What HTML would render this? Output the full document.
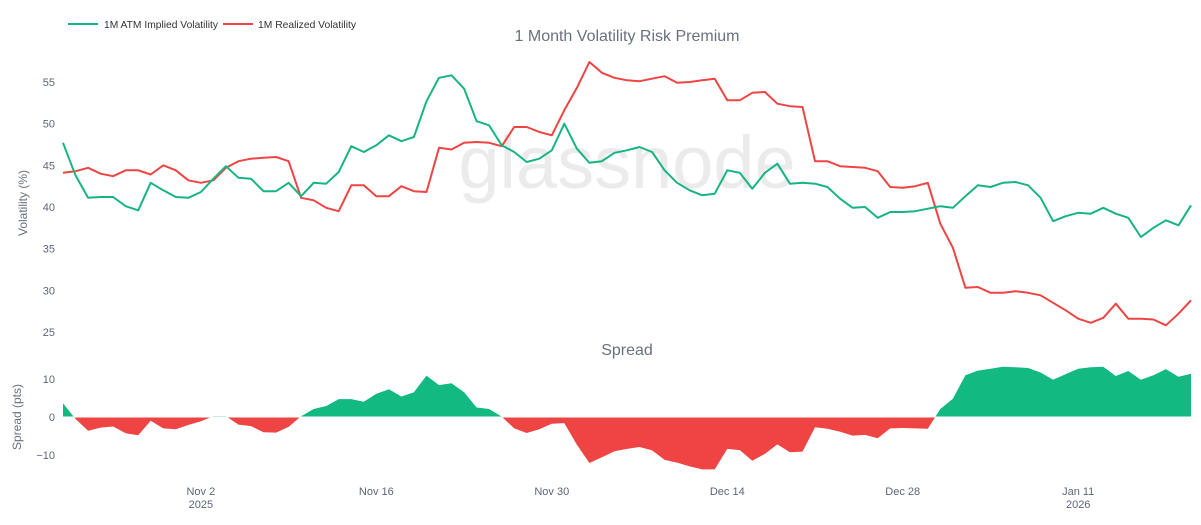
<!DOCTYPE html>
<html><head><meta charset="utf-8">
<style>
html,body{margin:0;padding:0;background:#fff;}
body{width:1201px;height:520px;overflow:hidden;font-family:"Liberation Sans",sans-serif;}
svg text{font-family:"Liberation Sans",sans-serif;}
</style></head>
<body>
<svg id="chart" width="1201" height="520" viewBox="0 0 1201 520" xmlns="http://www.w3.org/2000/svg">
  <text x="627" y="188" text-anchor="middle" font-size="74" fill="#ebebeb">glassnode</text>
  <g>
    <line x1="68" y1="24" x2="98" y2="24" stroke="#17b57e" stroke-width="2"/>
    <text x="104" y="28" font-size="10.5" fill="#333" textLength="114" lengthAdjust="spacingAndGlyphs">1M ATM Implied Volatility</text>
    <line x1="223" y1="24" x2="253" y2="24" stroke="#ee4444" stroke-width="2"/>
    <text x="258" y="28" font-size="10.5" fill="#333" textLength="98" lengthAdjust="spacingAndGlyphs">1M Realized Volatility</text>
  </g>
  <text x="627" y="41" text-anchor="middle" font-size="16" fill="#6b7080">1 Month Volatility Risk Premium</text>
  <text x="627" y="355" text-anchor="middle" font-size="16" fill="#6b7080">Spread</text>
  <text transform="translate(27,203) rotate(-90)" text-anchor="middle" font-size="12" fill="#6b7080">Volatility (%)</text>
  <text transform="translate(21,417) rotate(-90)" text-anchor="middle" font-size="12" fill="#6b7080">Spread (pts)</text>
  <g id="yticks"></g>
  <g id="xticks"></g>
  <g id="spreadArea"></g>
  <g id="lines"></g>
</svg>
<script>
const implied=[47.7,43.8,41.1,41.2,41.2,40.1,39.6,42.9,42.0,41.2,41.1,41.8,43.4,44.9,43.5,43.4,41.9,41.9,42.9,41.3,42.9,42.8,44.2,47.3,46.6,47.4,48.6,47.9,48.4,52.7,55.5,55.8,54.2,50.3,49.8,47.4,46.6,45.4,45.8,46.8,50.0,47.0,45.3,45.5,46.5,46.8,47.2,46.6,44.4,42.9,42.0,41.4,41.6,44.4,44.1,42.2,44.1,45.2,42.8,42.9,42.8,42.4,41.0,39.9,40.0,38.7,39.4,39.4,39.5,39.8,40.1,39.9,41.3,42.6,42.4,42.9,43.0,42.6,41.1,38.3,38.9,39.3,39.2,39.9,39.2,38.7,36.4,37.5,38.4,37.8,40.2];
const realized=[44.1,44.3,44.7,44.0,43.7,44.4,44.4,43.9,45.0,44.4,43.2,42.9,43.2,44.7,45.5,45.8,45.9,46.0,45.5,41.1,40.8,39.9,39.5,42.6,42.6,41.3,41.3,42.5,41.9,41.8,47.1,46.9,47.7,47.8,47.7,47.3,49.6,49.6,49.0,48.6,51.6,54.3,57.4,56.1,55.5,55.2,55.1,55.4,55.7,54.9,55.0,55.2,55.4,52.8,52.8,53.7,53.8,52.4,52.1,52.0,45.5,45.5,44.9,44.8,44.7,44.3,42.4,42.3,42.5,42.9,38.0,35.1,30.3,30.4,29.7,29.7,29.9,29.7,29.4,28.5,27.6,26.6,26.1,26.7,28.4,26.6,26.6,26.5,25.8,27.2,28.8];
const yTicks=[25,30,35,40,45,50,55];
const spreadTicks=[-10,0,10];
const xTickDays=[11,25,39,53,67,81];
const xTickLabels=["Nov 2","Nov 16","Nov 30","Dec 14","Dec 28","Jan 11"];
const yearLabels={"Nov 2":"2025","Jan 11":"2026"};

const NS="http://www.w3.org/2000/svg";
const x0=63,x1=1191;
const xs=i=>x0+i*(x1-x0)/(implied.length-1);
const ys=v=>82+(55-v)*250/30;
const ss=v=>417-v*3.8;
function mk(tag,attrs,parent){const e=document.createElementNS(NS,tag);for(const k in attrs)e.setAttribute(k,attrs[k]);parent.appendChild(e);return e;}

const yt=document.getElementById('yticks');
yTicks.forEach(v=>{const t=mk('text',{x:55,y:ys(v)+4,'text-anchor':'end','font-size':11,fill:'#5f6478'},yt);


t.textContent=v;});
spreadTicks.forEach(v=>{const t=mk('text',{x:55,y:ss(v)+4,'text-anchor':'end','font-size':11,fill:'#5f6478'},yt);


t.textContent=v<0?'\u2212'+Math.abs(v):v;});
const xt=document.getElementById('xticks');
xTickDays.forEach((d,k)=>{const t=mk('text',{x:xs(d),y:495,'text-anchor':'middle','font-size':11,fill:'#5f6478'},xt);


t.textContent=xTickLabels[k];
const yr=yearLabels[xTickLabels[k]];
if(yr){const t2=mk('text',{x:xs(d),y:508,'text-anchor':'middle','font-size':11,fill:'#5f6478'},xt);


t2.textContent=yr;}});

const spread=implied.map((v,i)=>v-realized[i]);
const sa=document.getElementById('spreadArea');
let d='M'+xs(0)+','+ss(0);
spread.forEach((v,i)=>{d+=' L'+xs(i).toFixed(1)+','+ss(v).toFixed(1);});
d+=' L'+xs(spread.length-1)+','+ss(0)+' Z';
const defs=mk('defs',{},sa);
const cp1=mk('clipPath',{id:'pos'},defs);mk('rect',{x:0,y:0,width:1201,height:ss(0)},cp1);
const cp2=mk('clipPath',{id:'neg'},defs);mk('rect',{x:0,y:ss(0),width:1201,height:200},cp2);
const p1=mk('path',{d:d,fill:'#12b981','clip-path':'url(#pos)'},sa);


const p2=mk('path',{d:d,fill:'#ef4444','clip-path':'url(#neg)'},sa);


const zl=mk('line',{x1:x0,x2:x1,y1:ss(0),y2:ss(0),stroke:'#fff','stroke-width':1},sa);



const lg=document.getElementById('lines');
function line(arr,color,name){const pts=arr.map((v,i)=>xs(i).toFixed(1)+','+ys(v).toFixed(1)).join(' ');
const p=mk('polyline',{points:pts,fill:'none',stroke:color,'stroke-width':2,'stroke-linejoin':'round'},lg);

}
line(realized,'#ee4444','realized-volatility-line');
line(implied,'#17b57e','implied-volatility-line');
</script>
</body></html>
